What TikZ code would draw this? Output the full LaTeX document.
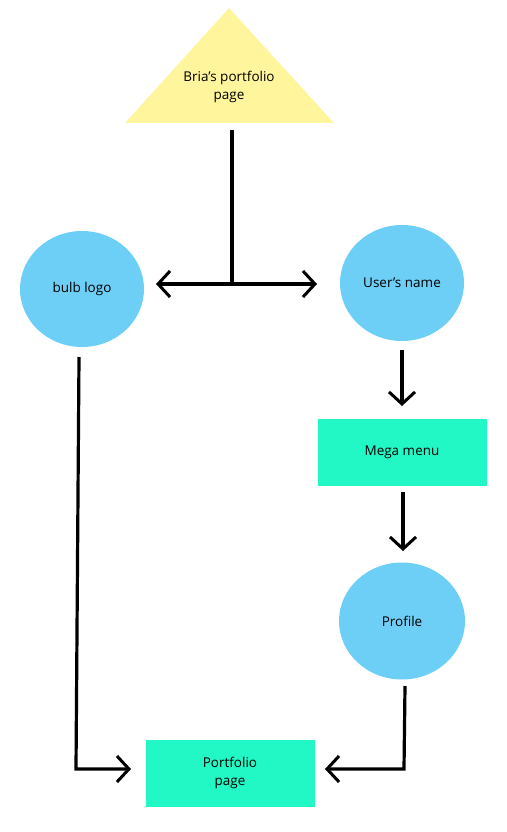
\documentclass[tikz,border=0pt]{standalone}
\usepackage{fontspec}
\setmainfont{Open Sans}
\usetikzlibrary{arrows.meta,shapes.geometric}
\definecolor{tyellow}{RGB}{255,245,157}
\definecolor{cblue}{RGB}{110,207,246}
\definecolor{rteal}{RGB}{34,247,198}
\tikzset{
  circ/.style={ellipse,fill=cblue,minimum width=124pt,minimum height=116pt,inner sep=0pt,font=\fontsize{13.5}{17}\selectfont},
  rbox/.style={rectangle,fill=rteal,minimum width=169pt,minimum height=67pt,inner sep=0pt,align=center,font=\fontsize{13.5}{17.5}\selectfont},
  barb/.style={Straight Barb[length=12pt,width=26pt,line width=3pt]},
  conn/.style={line width=3.2pt,-{Straight Barb[length=12pt,width=26pt,line width=3pt]}},
  plain/.style={line width=3.2pt}
}
\begin{document}
\begin{tikzpicture}[x=1pt,y=-1pt]
\useasboundingbox (0,0) rectangle (506,832);
\fill[tyellow] (229,8) -- (334,123) -- (125,123) -- cycle;
\node[align=center,font=\fontsize{13.5}{18}\selectfont] (tri) at (229,87) {Bria’s portfolio\\page};
\node[circ] (bulb) at (82,289) {bulb logo};
\node[circ] (user) at (402,283) {User’s name};
\node[rbox] (mega) at (402,452) {Mega menu};
\node[circ,minimum width=126pt,minimum height=117pt] (profile) at (402,621) {Profile};
\node[rbox] (port) at (230,773) {Portfolio\\page};
\coordinate (t0) at (232,130);
\coordinate (tj) at (232,283);
\coordinate (la) at (156,284);
\coordinate (ra) at (317,284);
\draw[plain] (t0) -- (tj);
\draw[line width=3.2pt,{Straight Barb[length=12pt,width=26pt,line width=3pt]}-{Straight Barb[length=12pt,width=26pt,line width=3pt]}] (la) -- (ra);
\coordinate (u0) at (402,350);
\coordinate (u1) at (402,406);
\draw[conn] (u0) -- (u1);
\coordinate (m0) at (403,492);
\coordinate (m1) at (403,551);
\draw[conn] (m0) -- (m1);
\coordinate (b0) at (79,357);
\coordinate (b1) at (76,769);
\coordinate (b2) at (131,769);
\draw[conn] (b0) -- (b1) -- (b2);
\coordinate (p0) at (405,686);
\coordinate (p1) at (404,769);
\coordinate (p2) at (325,769);
\draw[conn] (p0) -- (p1) -- (p2);
\end{tikzpicture}
\end{document}
